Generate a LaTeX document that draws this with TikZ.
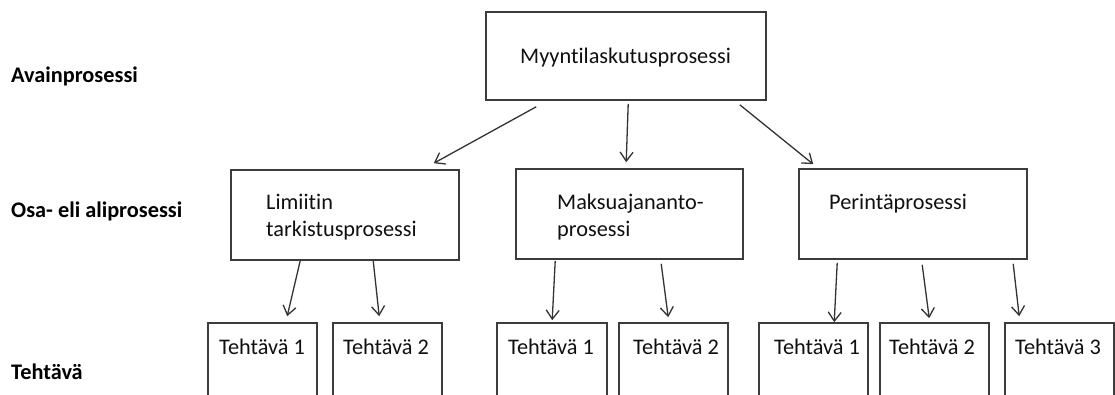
\documentclass[tikz,border=0pt]{standalone}
\usepackage{fontspec}
\setmainfont{Carlito}[Ligatures=NoCommon]
\usetikzlibrary{arrows.meta,calc}
\definecolor{linegray}{HTML}{3C3C3C}
\definecolor{txt}{HTML}{101010}
\tikzset{
  box/.style={draw=linegray, line width=1.6pt, rectangle, inner sep=0pt, fill=none},
  txtnode/.style={anchor=base west, inner sep=0pt, text=txt, font=\fontsize{22.3pt}{27pt}\selectfont},
  lvl/.style={anchor=base west, inner sep=0pt, text=black, font=\fontsize{22.3pt}{27pt}\selectfont\bfseries},
  conn/.style={draw=linegray!85!black, line width=1.3pt, -{Straight Barb[length=9pt,width=13pt]}}
}
\begin{document}
\begin{tikzpicture}[x=1pt,y=-1pt]
\useasboundingbox (0,0) rectangle (1115,394);
\clip (0,0) rectangle (1115,394);
% level labels
\node[lvl] (lA) at (11,82) {Avainprosessi};
\node[lvl] (lB) at (11,217) {Osa- eli aliprosessi};
\node[lvl] (lC) at (11,379) {Tehtävä};
% top box
\node[box, minimum width=280pt, minimum height=88pt] (top) at (626,56) {};
\node[txtnode] (topt) at (520,63) {Myyntilaskutusprosessi};
% level 2 boxes
\node[box, minimum width=228pt, minimum height=90pt] (l1) at (345,215) {};
\node[box, minimum width=227pt, minimum height=90pt] (l2) at (629.5,214) {};
\node[box, minimum width=228pt, minimum height=90pt] (l3) at (913,214) {};
\node[txtnode] (l1a) at (266,209) {Limiitin};
\node[txtnode] (l1b) at (266,236) {tarkistusprosessi};
\node[txtnode] (l2a) at (557,209) {Maksuajananto-};
\node[txtnode] (l2b) at (557,236) {prosessi};
\node[txtnode] (l3a) at (829,209) {Perintäprosessi};
% level 3 boxes
\node[box, minimum width=109pt, minimum height=77pt] (t11) at (262.5,361.5) {};
\node[box, minimum width=109pt, minimum height=77pt] (t12) at (387.5,361.5) {};
\node[box, minimum width=110pt, minimum height=77pt] (t21) at (552,361.5) {};
\node[box, minimum width=109pt, minimum height=77pt] (t22) at (673.5,361.5) {};
\node[box, minimum width=109pt, minimum height=77pt] (t31) at (813.5,361.5) {};
\node[box, minimum width=109pt, minimum height=77pt] (t32) at (934.5,361.5) {};
\node[box, minimum width=109pt, minimum height=77pt] (t33) at (1059.5,361.5) {};
\node[txtnode] (t11t) at (219,354) {Tehtävä 1};
\node[txtnode] (t12t) at (343,354) {Tehtävä 2};
\node[txtnode] (t21t) at (508,354) {Tehtävä 1};
\node[txtnode] (t22t) at (633,354) {Tehtävä 2};
\node[txtnode] (t31t) at (774,354) {Tehtävä 1};
\node[txtnode] (t32t) at (889,354) {Tehtävä 2};
\node[txtnode] (t33t) at (1015,354) {Tehtävä 3};
% connectors
\draw[conn] ($(top.south west)+(51,6)$) -- ($(l1.north east)+(-26,-6)$);
\draw[conn] ($(top.south west)+(143,3)$) -- ($(l2.north west)+(111,-6)$);
\draw[conn] ($(top.south east)+(-27,4)$) -- ($(l3.north west)+(15,-4)$);
\draw[conn] ($(l1.south west)+(70,0)$) -- ($(t11.north west)+(80,-6)$);
\draw[conn] ($(l1.south west)+(143,0)$) -- ($(t12.north west)+(47,-6)$);
\draw[conn] ($(l2.south west)+(40,1)$) -- ($(t21.north west)+(56,-2)$);
\draw[conn] ($(l2.south west)+(146,4)$) -- ($(t22.north west)+(50,-5)$);
\draw[conn] ($(l3.south west)+(39,3)$) -- ($(t31.north west)+(76,0)$);
\draw[conn] ($(l3.south west)+(124,5)$) -- ($(t32.north west)+(50,-4)$);
\draw[conn] ($(l3.south west)+(215,4)$) -- ($(t33.north west)+(15,-6)$);
\end{tikzpicture}
\end{document}
